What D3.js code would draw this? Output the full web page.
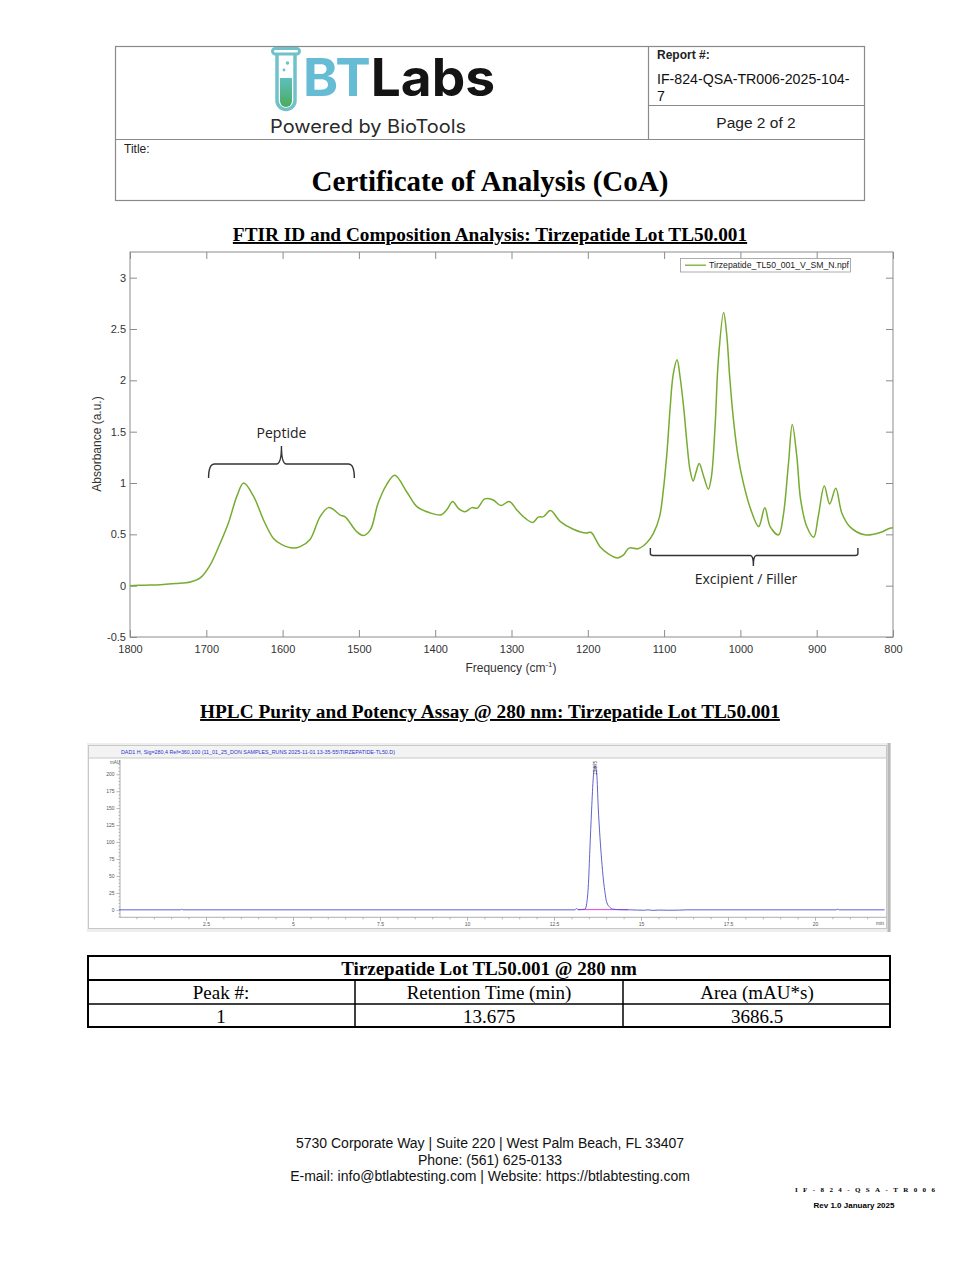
<!DOCTYPE html>
<html>
<head>
<meta charset="utf-8">
<script src="https://cdn.jsdelivr.net/npm/d3@7"></script>
<style>
  html,body{margin:0;padding:0;background:#fff;}
  svg{display:block;}
</style>
</head>
<body>
<svg id="page" width="980" height="1268"></svg>
<script>
// ---------------- DATA ----------------
// FTIR spectrum (wavenumber cm^-1, absorbance a.u.)
const ftirWavenumber = [1800,1780,1760,1740,1721,1708,1695,1682,1671,1660,1651,1638,1625,1612,1601,1586,1577,1564,1551,1540,1534,1525,1518,1503,1494,1485,1475,1464,1453,1437,1424,1407,1392,1385,1377,1370,1361,1352,1345,1335,1324,1314,1303,1293,1282,1272,1265,1258,1249,1236,1219,1202,1196,1184,1173,1161,1153,1146,1134,1123,1114,1106,1101,1096,1092,1088,1083,1079,1074,1070,1066,1062,1058,1054,1048,1042,1038,1033,1029,1022,1018,1014,1009,1003,996,987,976,968,961,950,944,937,932,926,921,913,904,898,890,883,875,867,856,837,817,804,800];
const ftirAbsorbance = [0.00,0.005,0.01,0.02,0.035,0.075,0.20,0.41,0.61,0.87,1.00,0.87,0.64,0.46,0.40,0.366,0.38,0.45,0.67,0.76,0.745,0.69,0.67,0.527,0.488,0.543,0.80,0.98,1.075,0.91,0.77,0.71,0.69,0.738,0.82,0.755,0.72,0.76,0.755,0.845,0.835,0.78,0.82,0.738,0.657,0.615,0.667,0.673,0.731,0.624,0.55,0.512,0.52,0.38,0.31,0.27,0.30,0.366,0.36,0.415,0.51,0.67,0.93,1.32,1.74,2.06,2.20,2.03,1.71,1.385,1.126,1.02,1.11,1.19,1.06,0.94,1.06,1.58,2.19,2.66,2.45,2.03,1.61,1.255,0.997,0.755,0.576,0.76,0.576,0.495,0.673,1.19,1.57,1.255,0.835,0.576,0.472,0.673,0.97,0.796,0.948,0.706,0.57,0.495,0.517,0.56,0.563];
const ftirXTicks = [1800,1700,1600,1500,1400,1300,1200,1100,1000,900,800];
const ftirYTicks = [-0.5,0,0.5,1,1.5,2,2.5,3];
const ftirLegend = "Tirzepatide_TL50_001_V_SM_N.npf";

// HPLC chromatogram (time min, signal mAU)
const hplcTime = [0,1.76,1.8,1.84,5,10,13.1,13.15,13.2,13.39,13.44,13.49,13.53,13.58,13.63,13.675,13.73,13.77,13.82,13.87,13.92,13.97,14.01,14.11,14.2,14.4,14.7,15.1,15.2,15.35,15.5,15.8,16.1,16.3,20.6,20.65,20.7,22];
const hplcSignal = [0,0,0.8,0,0,0,0,1.8,0.2,1,9.4,39,88,147,196,213,199,152,108,73,44,24,12,3.5,1,0.2,0,-0.6,0,-0.8,-0.3,-0.6,-0.4,0,0,0.8,0,0];
const hplcBaselineStart = 13.19, hplcBaselineEnd = 14.63;
const hplcXTicks = [2.5,5,7.5,10,12.5,15,17.5,20];
const hplcYTicks = [0,25,50,75,100,125,150,175,200];
const hplcHeader = "DAD1 H, Sig=280,4 Ref=360,100 (11_01_25_DON SAMPLES_RUNS 2025-11-01 13-35-55\\TIRZEPATIDE-TL50.D)";

// Table
const tableTitle = "Tirzepatide Lot TL50.001 @ 280 nm";
const tableHeaders = ["Peak #:", "Retention Time (min)", "Area (mAU*s)"];
const tableRow = ["1", "13.675", "3686.5"];

// ---------------- DRAW ----------------
const svg = d3.select("#page");
const SANS = "'Liberation Sans', Arial, sans-serif";
const SERIF = "'Liberation Serif', 'Times New Roman', serif";

// ===== Header box =====
const hdr = svg.append("g");
const boxStroke = "#8a8a8a";
hdr.append("rect").attr("x",115.5).attr("y",46.5).attr("width",749).attr("height",154)
  .attr("fill","none").attr("stroke",boxStroke).attr("stroke-width",1.2);
hdr.append("line").attr("x1",115.5).attr("x2",864.5).attr("y1",139.5).attr("y2",139.5).attr("stroke",boxStroke).attr("stroke-width",1.2);
hdr.append("line").attr("x1",648.5).attr("x2",648.5).attr("y1",46.5).attr("y2",139.5).attr("stroke",boxStroke).attr("stroke-width",1.2);
hdr.append("line").attr("x1",648.5).attr("x2",864.5).attr("y1",105.5).attr("y2",105.5).attr("stroke",boxStroke).attr("stroke-width",1.2);

hdr.append("text").attr("x",657).attr("y",59).attr("font-family",SANS).attr("font-size",12).attr("font-weight","bold").attr("fill","#222").text("Report #:");
hdr.append("text").attr("x",657).attr("y",84).attr("font-family",SANS).attr("font-size",14.2).attr("fill","#111").text("IF-824-QSA-TR006-2025-104-");
hdr.append("text").attr("x",657).attr("y",101).attr("font-family",SANS).attr("font-size",14.2).attr("fill","#111").text("7");
hdr.append("text").attr("x",756).attr("y",128).attr("text-anchor","middle").attr("font-family",SANS).attr("font-size",15.5).attr("fill","#222").text("Page 2 of 2");
hdr.append("text").attr("x",124).attr("y",153).attr("font-family",SANS).attr("font-size",12).attr("fill","#222").text("Title:");
hdr.append("text").attr("x",490).attr("y",191).attr("text-anchor","middle").attr("font-family",SERIF).attr("font-size",29).attr("font-weight","bold").attr("fill","#000").text("Certificate of Analysis (CoA)");

// Logo
const defs = svg.append("defs");
const grad = defs.append("linearGradient").attr("id","liquid").attr("x1",0).attr("x2",0).attr("y1",0).attr("y2",1);
grad.append("stop").attr("offset","0%").attr("stop-color","#5dbfbf");
grad.append("stop").attr("offset","100%").attr("stop-color","#4aac5a");
const logo = hdr.append("g");
logo.append("path").attr("d","M280,78 L292,78 L292,101 A6,6 0 0 1 280,101 Z").attr("fill","url(#liquid)");
logo.append("path").attr("d","M277,54 L277,100.5 A9,9 0 0 0 295,100.5 L295,54")
  .attr("fill","none").attr("stroke","#6fc2c9").attr("stroke-width",3.5);
logo.append("rect").attr("x",272.5).attr("y",48.5).attr("width",27).attr("height",5.5).attr("rx",2.7)
  .attr("fill","none").attr("stroke","#6fc2c9").attr("stroke-width",3);
logo.append("circle").attr("cx",287.5).attr("cy",63).attr("r",1.8).attr("fill","#6fc2c9");
logo.append("circle").attr("cx",284).attr("cy",70).attr("r",1.4).attr("fill","#6fc2c9");
const lt = logo.append("text").attr("x",303).attr("y",96).attr("font-family","Inter, 'Open Sans', sans-serif")
  .attr("font-size",52).attr("font-weight",700).attr("textLength",192).attr("lengthAdjust","spacingAndGlyphs");
lt.append("tspan").attr("fill","#67bcd5").text("BT");
lt.append("tspan").attr("fill","#141414").text("Labs");
logo.append("text").attr("x",270).attr("y",133).attr("font-family","Inter, 'Open Sans', sans-serif").attr("font-size",18)
  .attr("fill","#2a2a2a").attr("textLength",196).attr("lengthAdjust","spacingAndGlyphs").text("Powered by BioTools");

// ===== Section titles =====
function sectionTitle(txt, y){
  svg.append("text").attr("x",490).attr("y",y).attr("text-anchor","middle")
    .attr("font-family",SERIF).attr("font-size",19.3).attr("font-weight","bold")
    .attr("text-decoration","underline").attr("fill","#000").text(txt);
}
sectionTitle("FTIR ID and Composition Analysis: Tirzepatide Lot TL50.001", 241);
sectionTitle("HPLC Purity and Potency Assay @ 280 nm: Tirzepatide Lot TL50.001", 718);

// ===== FTIR chart =====
const fx = d3.scaleLinear().domain([1800,800]).range([130,893]);
const fy = d3.scaleLinear().domain([-0.5,3.25]).range([637,252]);
const fg = svg.append("g");
const axisCol = "#8c8c8c", labCol = "#333";

function styleAxis(g){
  g.select(".domain").remove();
  g.selectAll(".tick line").attr("stroke",axisCol).attr("stroke-width",1);
  g.selectAll(".tick text").attr("fill",labCol).attr("font-family",SANS).attr("font-size",11);
}
fg.append("g").attr("transform","translate(0,637)")
  .call(d3.axisBottom(fx).tickValues(ftirXTicks).tickSize(-7).tickPadding(8).tickFormat(d3.format("d")))
  .call(styleAxis);
fg.append("g").attr("transform","translate(0,252)")
  .call(d3.axisTop(fx).tickValues(ftirXTicks).tickSize(-7).tickFormat(""))
  .call(styleAxis);
fg.append("g").attr("transform","translate(130,0)")
  .call(d3.axisLeft(fy).tickValues(ftirYTicks).tickSize(-7).tickPadding(4).tickFormat(d => String(d)))
  .call(styleAxis);
fg.append("g").attr("transform","translate(893,0)")
  .call(d3.axisRight(fy).tickValues(ftirYTicks).tickSize(-7).tickFormat(""))
  .call(styleAxis);
fg.append("rect").attr("x",130).attr("y",252).attr("width",763).attr("height",385)
  .attr("fill","none").attr("stroke",axisCol).attr("stroke-width",1);

const ftirData = ftirWavenumber.map((w,i)=>({w, a: ftirAbsorbance[i]}));
fg.append("path").datum(ftirData)
  .attr("d", d3.line().x(d=>fx(d.w)).y(d=>fy(d.a)).curve(d3.curveCatmullRom.alpha(0.5)))
  .attr("fill","none").attr("stroke","#77ac30").attr("stroke-width",1.5);

// Axis titles
fg.append("text").attr("transform","translate(101,444) rotate(-90)").attr("text-anchor","middle")
  .attr("font-family",SANS).attr("font-size",12).attr("fill",labCol).text("Absorbance (a.u.)");
const xl = fg.append("text").attr("x",511).attr("y",672).attr("text-anchor","middle")
  .attr("font-family",SANS).attr("font-size",12).attr("fill",labCol);
xl.append("tspan").text("Frequency (cm");
xl.append("tspan").attr("font-size",8).attr("dy",-5).text("-1");
xl.append("tspan").attr("dy",5).text(")");

// Legend
fg.append("rect").attr("x",680.5).attr("y",258.5).attr("width",170).attr("height",13.5)
  .attr("fill","#fff").attr("stroke","#9a9a9a").attr("stroke-width",0.8);
fg.append("line").attr("x1",685).attr("x2",706).attr("y1",265.2).attr("y2",265.2).attr("stroke","#77ac30").attr("stroke-width",1.3);
fg.append("text").attr("x",709).attr("y",268.3).attr("font-family",SANS).attr("font-size",8.2).attr("fill","#222")
  .attr("textLength",140).attr("lengthAdjust","spacingAndGlyphs").text(ftirLegend);

// Brackets
const bCol = "#333";
{
  const x1 = fx(1697), x2 = fx(1506), xm = fx(1601.5);
  const yb = 464, ye = 478, yt = 446;
  fg.append("path").attr("d",
    `M${x1},${ye} Q${x1},${yb} ${x1+6},${yb} L${xm-5},${yb} Q${xm},${yb} ${xm},${yt} Q${xm},${yb} ${xm+5},${yb} L${x2-6},${yb} Q${x2},${yb} ${x2},${ye}`)
    .attr("fill","none").attr("stroke",bCol).attr("stroke-width",1.4);
  fg.append("text").attr("x",xm).attr("y",438).attr("text-anchor","middle")
    .attr("font-family","'Open Sans', 'Noto Sans', sans-serif").attr("font-size",14).attr("fill","#222").text("Peptide");
}
{
  const x1 = fx(1118), x2 = fx(846), xm = fx(983);
  const yb = 555.5, ye = 548, yt = 566;
  fg.append("path").attr("d",
    `M${x1},${ye} L${x1},${yb-2} Q${x1},${yb} ${x1+3},${yb} L${xm-3},${yb} Q${xm},${yb} ${xm},${yt} Q${xm},${yb} ${xm+3},${yb} L${x2-3},${yb} Q${x2},${yb} ${x2},${yb-2} L${x2},${ye}`)
    .attr("fill","none").attr("stroke",bCol).attr("stroke-width",1.4);
  fg.append("text").attr("x",746).attr("y",584).attr("text-anchor","middle")
    .attr("font-family","'Open Sans', 'Noto Sans', sans-serif").attr("font-size",14).attr("fill","#222").text("Excipient / Filler");
}

// ===== HPLC chart (screenshot-like) =====
const hg = svg.append("g");
hg.append("rect").attr("x",87).attr("y",743).attr("width",804).attr("height",189).attr("fill","#eeeeee");
hg.append("rect").attr("x",88.5).attr("y",745.5).attr("width",798).attr("height",183).attr("fill","#fff").attr("stroke","#c8c8c8").attr("stroke-width",1);
hg.append("rect").attr("x",88.5).attr("y",745.5).attr("width",798).attr("height",12.5).attr("fill","#f3f3f3").attr("stroke","#c8c8c8").attr("stroke-width",1);
hg.append("rect").attr("x",887.5).attr("y",743).attr("width",3).attr("height",189).attr("fill","#b9b9b9");
hg.append("text").attr("x",121).attr("y",754).attr("font-family",SANS).attr("font-size",5).attr("fill","#2b35c8")
  .attr("textLength",274).attr("lengthAdjust","spacingAndGlyphs").text(hplcHeader);

const hx = d3.scaleLinear().domain([0,22]).range([119,884.6]);
const hy = d3.scaleLinear().domain([-11,221]).range([917.3,760]);
const hAxisCol = "#9a9a9a", hLab = "#555";
function styleH(g){
  g.select(".domain").remove();
  g.selectAll(".tick line").attr("stroke",hAxisCol).attr("stroke-width",0.7);
  g.selectAll(".tick text").attr("fill",hLab).attr("font-family",SANS).attr("font-size",5);
}
hg.append("g").attr("transform","translate(0,917.3)")
  .call(d3.axisBottom(hx).tickValues(d3.range(0.5,22,0.5).filter(v=>hplcXTicks.indexOf(v)<0)).tickSize(2).tickFormat(""))
  .call(styleH);
hg.append("g").attr("transform","translate(0,917.3)")
  .call(d3.axisBottom(hx).tickValues(hplcXTicks).tickSize(3.5).tickPadding(2).tickFormat(d=>String(d)))
  .call(styleH);
hg.append("g").attr("transform","translate(120,0)")
  .call(d3.axisLeft(hy).tickValues(d3.range(-10,221,5).filter(v=>hplcYTicks.indexOf(v)<0)).tickSize(1.5).tickFormat(""))
  .call(styleH);
hg.append("g").attr("transform","translate(120,0)")
  .call(d3.axisLeft(hy).tickValues(hplcYTicks).tickSize(3.5).tickPadding(2).tickFormat(d=>String(d)))
  .call(styleH);
hg.append("line").attr("x1",120).attr("x2",886).attr("y1",917.3).attr("y2",917.3).attr("stroke",hAxisCol).attr("stroke-width",0.8);
hg.append("line").attr("x1",120).attr("x2",120).attr("y1",760).attr("y2",917.3).attr("stroke",hAxisCol).attr("stroke-width",0.8);
hg.append("text").attr("x",110).attr("y",764).attr("font-family",SANS).attr("font-size",4.5).attr("fill",hLab).text("mAU");
hg.append("text").attr("x",880).attr("y",925).attr("text-anchor","middle").attr("font-family",SANS).attr("font-size",5).attr("fill",hLab).text("min");

hg.append("line").attr("x1",hx(hplcBaselineStart)).attr("x2",hx(hplcBaselineEnd)).attr("y1",hy(0.3)).attr("y2",hy(0.3))
  .attr("stroke","#e040e0").attr("stroke-width",1);
const hplcData = hplcTime.map((t,i)=>({t, s: hplcSignal[i]}));
hg.append("path").datum(hplcData)
  .attr("d", d3.line().x(d=>hx(d.t)).y(d=>hy(d.s)).curve(d3.curveMonotoneX))
  .attr("fill","none").attr("stroke","#4f4fc8").attr("stroke-width",0.9);
hg.append("text").attr("transform",`translate(${hx(13.675)+1.7},775) rotate(-90)`)
  .attr("font-family",SANS).attr("font-size",4.6).attr("fill","#333").text("13.675");

// ===== Table =====
const tg = svg.append("g");
const tx = [87,355,623,891];
tg.append("rect").attr("x",88).attr("y",956).attr("width",802).attr("height",71).attr("fill","none").attr("stroke","#000").attr("stroke-width",2);
tg.append("line").attr("x1",87).attr("x2",891).attr("y1",980).attr("y2",980).attr("stroke","#000").attr("stroke-width",2);
tg.append("line").attr("x1",87).attr("x2",891).attr("y1",1004).attr("y2",1004).attr("stroke","#000").attr("stroke-width",1.5);
[355,623].forEach(x=>tg.append("line").attr("x1",x).attr("x2",x).attr("y1",980).attr("y2",1028).attr("stroke","#000").attr("stroke-width",1.5));
tg.append("text").attr("x",489).attr("y",974.5).attr("text-anchor","middle").attr("font-family",SERIF).attr("font-size",19).attr("font-weight","bold").text(tableTitle);
tableHeaders.forEach((h,i)=>tg.append("text").attr("x",(tx[i]+tx[i+1])/2).attr("y",998.5).attr("text-anchor","middle").attr("font-family",SERIF).attr("font-size",19).text(h));
tableRow.forEach((h,i)=>tg.append("text").attr("x",(tx[i]+tx[i+1])/2).attr("y",1022.5).attr("text-anchor","middle").attr("font-family",SERIF).attr("font-size",19).text(h));

// ===== Footer =====
const footer = ["5730 Corporate Way | Suite 220 | West Palm Beach, FL 33407","Phone: (561) 625-0133","E-mail: info@btlabtesting.com | Website: https://btlabtesting.com"];
footer.forEach((l,i)=>svg.append("text").attr("x",490).attr("y",1148+i*16.5).attr("text-anchor","middle").attr("font-family",SANS).attr("font-size",14).attr("fill","#111").text(l));
svg.append("text").attr("x",795).attr("y",1192).attr("font-family",SERIF).attr("font-size",7).attr("font-weight","bold")
  .attr("textLength",140).attr("lengthAdjust","spacing").text("IF-824-QSA-TR006");
svg.append("text").attr("x",854).attr("y",1208).attr("text-anchor","middle").attr("font-family",SANS).attr("font-size",8).attr("font-weight","bold").text("Rev 1.0 January 2025");
</script>
</body>
</html>
